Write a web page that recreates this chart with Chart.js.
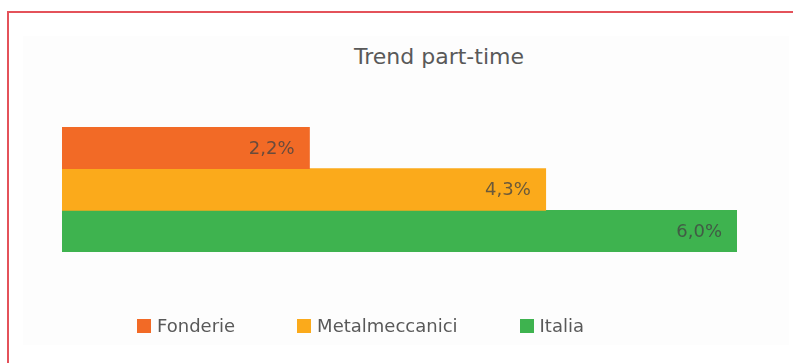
<!DOCTYPE html>
<html lang="it">
<head>
<meta charset="utf-8">
<title>Trend part-time</title>
<script src="https://cdn.jsdelivr.net/npm/chart.js@4/dist/chart.umd.min.js"></script>
<style>
  html, body { margin: 0; padding: 0; background: #ffffff; overflow: hidden; }
  #wrap { position: relative; width: 793px; height: 363px; font-family: "DejaVu Sans", sans-serif; color: #595959; }
  #frame { position: absolute; left: 7px; top: 11px; right: -4px; bottom: -4px;
           border-top: 2px solid #e4525a; border-left: 2px solid #e4525a; }
  #panel { position: absolute; left: 23px; top: 36px; width: 766px; height: 309px; background: #fdfdfd; }
  #title { position: absolute; left: 0; width: 878px; top: 43px; text-align: center;
           font-size: 22px; line-height: 28px; color: #595959; }
  #chart { position: absolute; left: 0; top: 0; }
  #legend { position: absolute; left: 137px; top: 315px; display: flex; gap: 62px; font-size: 18px; line-height: 21px; color: #595959; }
  #legend .item { display: flex; align-items: center; }
  #legend .sw { width: 14px; height: 14px; margin-right: 6px; }
</style>
</head>
<body>
<div id="wrap">
  <div id="frame"></div>
  <div id="panel"></div>
  <div id="title">Trend part-time</div>
  <canvas id="chart" width="793" height="363"></canvas>
  <div id="legend"></div>
</div>
<script>
// Part-time share (%) for a single period
const categories = ['Part-time'];
const seriesNames = ['Fonderie', 'Metalmeccanici', 'Italia'];
const fonderie = [2.2];
const metalmeccanici = [4.3];
const italia = [6.0];
const seriesColors = ['#f26a26', '#fbaa1b', '#3eb34f'];

const seriesValues = [fonderie, metalmeccanici, italia];

// Value labels written inside the end of each bar, Italian decimal comma
const barValueLabels = {
  id: 'barValueLabels',
  afterDatasetsDraw(chart) {
    const ctx = chart.ctx;
    ctx.save();
    ctx.font = '18px "DejaVu Sans", sans-serif';
    ctx.fillStyle = 'rgba(66,66,66,0.78)';
    ctx.textAlign = 'right';
    ctx.textBaseline = 'middle';
    chart.data.datasets.forEach((ds, di) => {
      chart.getDatasetMeta(di).data.forEach((bar, i) => {
        const txt = ds.data[i].toFixed(1).replace('.', ',') + '%';
        ctx.fillText(txt, bar.x - 15, bar.y + 1);
      });
    });
    ctx.restore();
  }
};

const chart = new Chart(document.getElementById('chart'), {
  type: 'bar',
  data: {
    labels: categories,
    datasets: seriesNames.map((name, i) => ({
      label: name,
      data: seriesValues[i],
      backgroundColor: seriesColors[i],
      borderWidth: 0
    }))
  },
  options: {
    indexAxis: 'y',
    responsive: false,
    animation: false,
    layout: { padding: { left: 62, right: 56, top: 127, bottom: 111 } },
    datasets: { bar: { categoryPercentage: 1, barPercentage: 1 } },
    scales: {
      x: { display: false, min: 0, max: 6 },
      y: { display: false }
    },
    plugins: {
      legend: { display: false },
      title: { display: false },
      tooltip: { enabled: false }
    }
  },
  plugins: [barValueLabels]
});

// Legend built from the chart's own datasets
const legendEl = document.getElementById('legend');
chart.data.datasets.forEach(ds => {
  const item = document.createElement('div');
  item.className = 'item';
  const sw = document.createElement('span');
  sw.className = 'sw';
  sw.style.background = ds.backgroundColor;
  const tx = document.createElement('span');
  tx.textContent = ds.label;
  item.appendChild(sw);
  item.appendChild(tx);
  legendEl.appendChild(item);
});
</script>
</body>
</html>
